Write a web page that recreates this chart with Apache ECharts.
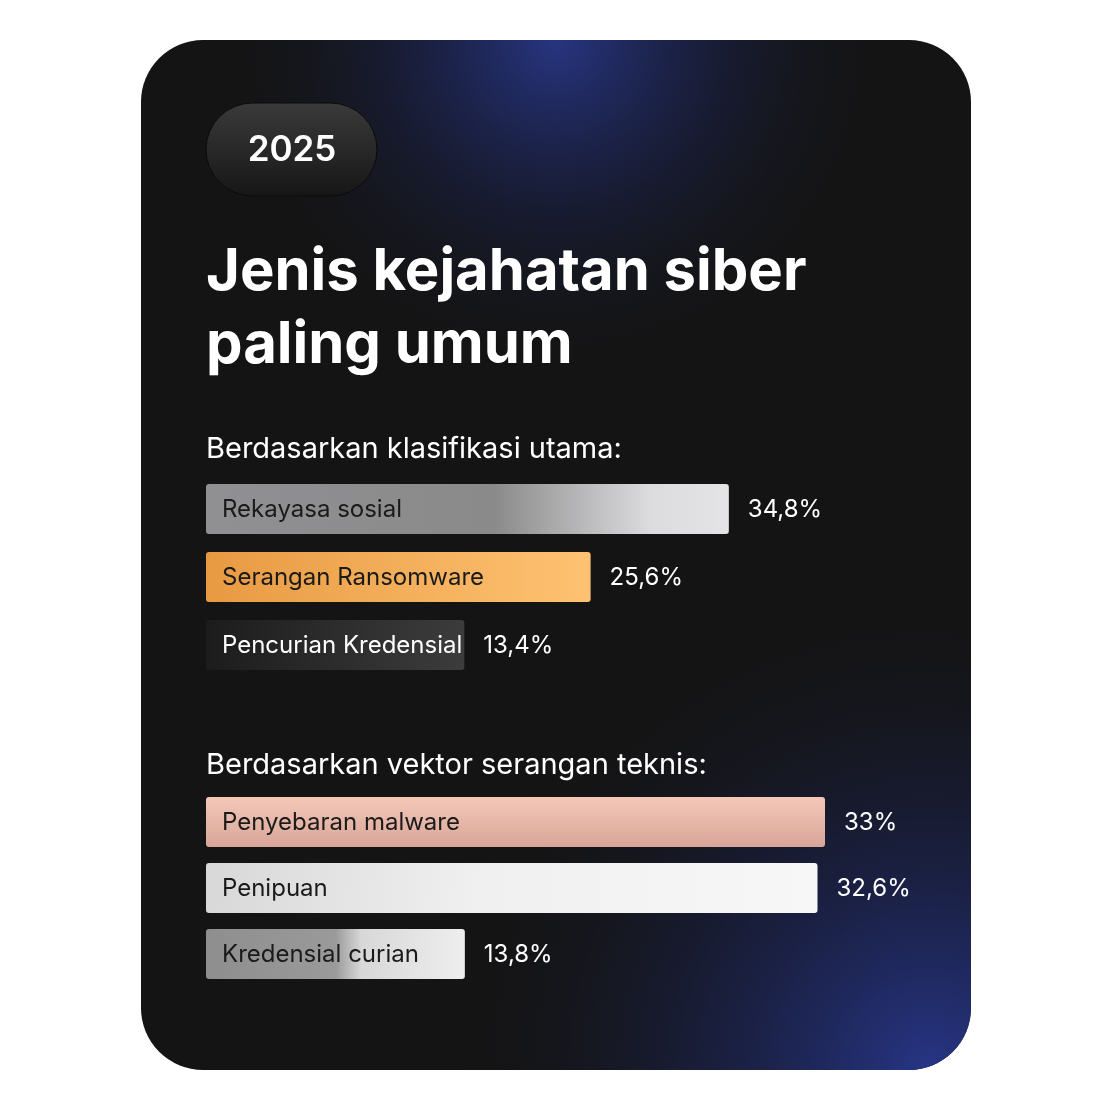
<!DOCTYPE html>
<html>
<head>
<meta charset="utf-8">
<script src="https://cdn.jsdelivr.net/npm/echarts@6/dist/echarts.min.js"></script>
<style>html,body{margin:0;background:#fff}#c{width:1111px;height:1110px}</style>
</head>
<body>
<div id="c"></div>
<script>
var yearLabel = '2025';
var titleLines = ['Jenis kejahatan siber', 'paling umum'];
var group1Title = 'Berdasarkan klasifikasi utama:';
var group1Names = ['Rekayasa sosial', 'Serangan Ransomware', 'Pencurian Kredensial'];
var group1Values = [34.8, 25.6, 13.4];
var group2Title = 'Berdasarkan vektor serangan teknis:';
var group2Names = ['Penyebaran malware', 'Penipuan', 'Kredensial curian'];
var group2Values = [33, 32.6, 13.8];

var LG = echarts.graphic.LinearGradient;
var fills1 = [
  new LG(0,0,1,0,[{offset:0,color:'#909092'},{offset:0.55,color:'#8a8a8b'},{offset:0.85,color:'#dcdcde'},{offset:1,color:'#e4e4e6'}]),
  new LG(0,0,1,0,[{offset:0,color:'#e89a42'},{offset:1,color:'#fec272'}]),
  new LG(0,0,1,0,[{offset:0,color:'#1c1c1c'},{offset:1,color:'#3c3c3c'}])
];
var fills2 = [
  new LG(0,0,0,1,[{offset:0,color:'#f4c8b8'},{offset:1,color:'#d8a698'}]),
  new LG(0,0,1,1,[{offset:0,color:'#d8d8d8'},{offset:0.45,color:'#f0f0f0'},{offset:1,color:'#f7f7f7'}]),
  new LG(0,0,1,0,[{offset:0,color:'#8e8e8e'},{offset:0.5,color:'#9a9a9a'},{offset:0.6,color:'#d8d8d8'},{offset:1,color:'#eeeeee'}])
];
var textColors1 = ['#1a1a1a', '#1a1a1a', '#ffffff'];
var textColors2 = ['#1a1a1a', '#1a1a1a', '#1a1a1a'];

var ctx = document.createElement('canvas').getContext('2d');
ctx.font = '24px Inter';
function textW(s){ return ctx.measureText(s).width; }

function makeRender(names, fills, colors){
  return function(params, api){
    var cat = api.value(0), val = api.value(1);
    var p0 = api.coord([0, cat]);
    var p1 = api.coord([val, cat]);
    var h = 50;
    var name = names[cat];
    var w = Math.max(p1[0] - p0[0], textW(name) + 18);
    var lbl = String(val).replace('.', ',') + '%';
    return {
      type: 'group',
      children: [
        {type:'rect', shape:{x:p0[0], y:p0[1]-h/2, width:w, height:h, r:3}, style:{fill:fills[cat]}},
        {type:'text', style:{x:p0[0]+16, y:p0[1]+1, text:name, fill:colors[cat], font:'24px Inter', textVerticalAlign:'middle'}},
        {type:'text', style:{x:p0[0]+w+19, y:p0[1]+1, text:lbl, fill:'#fff', font:'24px Inter', textVerticalAlign:'middle'}}
      ]
    };
  };
}

var chart = echarts.init(document.getElementById('c'));
chart.setOption({
  animation: false,
  graphic: [
    {type:'rect', shape:{x:141, y:40, width:830, height:1030, r:62}, style:{fill:'#141414'}, z:-10},
    {type:'rect', shape:{x:141, y:40, width:830, height:1030, r:62}, z:-9,
      style:{fill:new echarts.graphic.RadialGradient(0.5, 0, 0.42, [{offset:0,color:'rgba(40,55,135,0.95)'},{offset:0.5,color:'rgba(30,40,100,0.35)'},{offset:1,color:'rgba(20,20,20,0)'}])}},
    {type:'rect', shape:{x:141, y:40, width:830, height:1030, r:62}, z:-9,
      style:{fill:new echarts.graphic.RadialGradient(0.95, 1, 0.6, [{offset:0,color:'rgba(40,55,140,0.95)'},{offset:0.5,color:'rgba(30,40,100,0.4)'},{offset:1,color:'rgba(20,20,20,0)'}])}},
    {type:'rect', shape:{x:206, y:103, width:171, height:93, r:46.5}, z:-5,
      style:{fill:new LG(0,0,0,1,[{offset:0,color:'#3a3a3a'},{offset:1,color:'#161616'}]), stroke:'#0a0a0a', lineWidth:1}},
    {type:'text', x:292, y:150, z:-4, style:{text:yearLabel, fill:'#fff', font:'600 35px Inter', textAlign:'center', textVerticalAlign:'middle'}},
    {type:'text', x:206, y:273, style:{text:titleLines[0], fill:'#fff', font:'bold 58px Inter', textVerticalAlign:'middle'}},
    {type:'text', x:206, y:346, style:{text:titleLines[1], fill:'#fff', font:'bold 58px Inter', textVerticalAlign:'middle'}},
    {type:'text', x:206, y:449, style:{text:group1Title, fill:'#fff', font:'29px Inter', textVerticalAlign:'middle'}},
    {type:'text', x:206, y:765, style:{text:group2Title, fill:'#fff', font:'29px Inter', textVerticalAlign:'middle'}}
  ],
  grid: [
    {left:206, width:619, top:475, height:204},
    {left:206, width:619, top:789, height:198}
  ],
  xAxis: [
    {gridIndex:0, type:'value', min:0, max:41.2, show:false},
    {gridIndex:1, type:'value', min:0, max:33, show:false}
  ],
  yAxis: [
    {gridIndex:0, type:'category', data:group1Names, inverse:true, show:false},
    {gridIndex:1, type:'category', data:group2Names, inverse:true, show:false}
  ],
  series: [
    {type:'custom', xAxisIndex:0, yAxisIndex:0, renderItem:makeRender(group1Names, fills1, textColors1),
      encode:{x:1, y:0}, data:group1Values.map(function(v,i){return [i,v];})},
    {type:'custom', xAxisIndex:1, yAxisIndex:1, renderItem:makeRender(group2Names, fills2, textColors2),
      encode:{x:1, y:0}, data:group2Values.map(function(v,i){return [i,v];})}
  ]
});
</script>
</body>
</html>
